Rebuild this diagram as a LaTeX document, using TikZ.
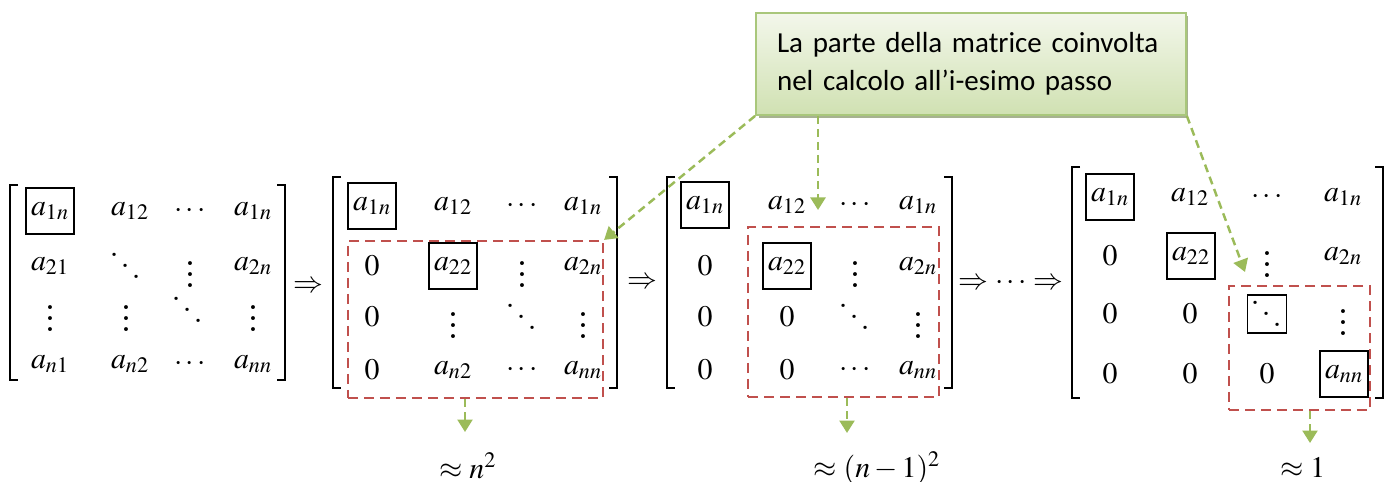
\documentclass[tikz,border=0pt]{standalone}
\usepackage[no-math]{fontspec}
\setmainfont{Liberation Serif}
\newfontfamily\notefont{Carlito}
\usepackage{mathptmx}
\usetikzlibrary{arrows.meta,shadows,fit}

\newcommand{\bvdots}{\mbox{\scalebox{1.6}{$\vdots$}}}
\newcommand{\bddots}{\mbox{\fontsize{23}{23}\selectfont\raisebox{12.4pt}{.}\kern0.5pt\raisebox{6.2pt}{.}\kern0.5pt.}}

\definecolor{notetop}{HTML}{F3F7EB}
\definecolor{notebot}{HTML}{D0E1B2}
\definecolor{noteline}{HTML}{A9C77B}
\definecolor{noteshadow}{HTML}{A7B291}
\definecolor{ptrgreen}{HTML}{9BBB59}
\definecolor{regred}{HTML}{C0504D}

\begin{document}
\begin{tikzpicture}[x=0.02cm, y=-0.02cm,
    every node/.style={font=\fontsize{17}{20}\selectfont},
    entry/.style={inner sep=1pt},
    pivot/.style={draw, line width=0.6pt, inner sep=1pt,
                  minimum width=0.96cm, minimum height=0.92cm},
    dpivot/.style={pivot, minimum width=0.78cm, minimum height=0.76cm},
    brk/.style={line width=0.7pt},
    region/.style={draw=regred, line width=1.2pt,
                   dash pattern=on 0.2cm off 0.12cm, inner sep=0pt},
    ptr/.style={draw=ptrgreen, line width=1.4pt,
                dash pattern=on 0.16cm off 0.1cm,
                -{Triangle[width=0.3cm,length=0.25cm]}},
    note/.style={draw=noteline, line width=1pt,
                 top color=notetop, bottom color=notebot,
                 drop shadow={shadow xshift=0.05cm, shadow yshift=-0.06cm,
                              fill=noteshadow, opacity=1},
                 font=\notefont\fontsize{16.5}{21.5}\selectfont,
                 align=left, text width=7.76cm, inner xsep=0.42cm,
                 minimum width=8.6cm, minimum height=2.04cm}]
\useasboundingbox (0,0) rectangle (1395,482);

% matrix 1
\draw[brk] (18,185) -- (10,185) -- (10,380) -- (18,380);
\draw[brk] (277,185) -- (285,185) -- (285,380) -- (277,380);
\foreach \x/\e/\s [count=\j] in {50/a_{1n}/pivot,130/a_{12}/entry,190/\cdots/entry,253/a_{1n}/entry}
  \node[\s] (A-1-\j) at (\x,211) {$\e$};
\foreach \x/\e [count=\j] in {50/a_{21},126/\bddots,190/\bvdots,253/a_{2n}}
  \node[entry] (A-2-\j) at (\x,266) {$\e$};
\foreach \x/\e [count=\j] in {50/\bvdots,126/\bvdots,188/\bddots,253/\bvdots}
  \node[entry] (A-3-\j) at (\x,310) {$\e$};
\foreach \x/\e [count=\j] in {50/a_{n1},130/a_{n2},190/\cdots,253/a_{nn}}
  \node[entry] (A-4-\j) at (\x,364) {$\e$};
\node (imp1) at (308,287) {$\Rightarrow$};

% matrix 2
\draw[brk] (341,177) -- (333,177) -- (333,388) -- (341,388);
\draw[brk] (609,177) -- (617,177) -- (617,388) -- (609,388);
\foreach \x/\e/\s [count=\j] in {372/a_{1n}/pivot,453/a_{12}/entry,522/\cdots/entry,583/a_{1n}/entry}
  \node[\s] (B-1-\j) at (\x,206) {$\e$};
\foreach \x/\e/\s [count=\j] in {372/0/entry,453/a_{22}/pivot,522/\bvdots/entry,583/a_{2n}/entry}
  \node[\s] (B-2-\j) at (\x,266) {$\e$};
\foreach \x/\e [count=\j] in {372/0,453/\bvdots,522/\bddots,583/\bvdots}
  \node[entry] (B-3-\j) at (\x,317) {$\e$};
\foreach \x/\e [count=\j] in {372/0,453/a_{n2},522/\cdots,583/a_{nn}}
  \node[entry] (B-4-\j) at (\x,370) {$\e$};
\node[region, fit={(348,241) (603,398)}] (r2) {};
\node (imp2) at (642,283) {$\Rightarrow$};

% matrix 3
\draw[brk] (675,177) -- (667,177) -- (667,388) -- (675,388);
\draw[brk] (944,177) -- (952,177) -- (952,388) -- (944,388);
\foreach \x/\e/\s [count=\j] in {705/a_{1n}/pivot,787/a_{12}/entry,855/\cdots/entry,918/a_{1n}/entry}
  \node[\s] (C-1-\j) at (\x,205) {$\e$};
\foreach \x/\e/\s [count=\j] in {705/0/entry,787/a_{22}/pivot,855/\bvdots/entry,918/a_{2n}/entry}
  \node[\s] (C-2-\j) at (\x,266) {$\e$};
\foreach \x/\e [count=\j] in {705/0,787/0,855/\bddots,918/\bvdots}
  \node[entry] (C-3-\j) at (\x,317) {$\e$};
\foreach \x/\e [count=\j] in {705/0,787/0,855/\cdots,918/a_{nn}}
  \node[entry] (C-4-\j) at (\x,370) {$\e$};
\node[region, fit={(748,227) (939,397)}] (r3) {};
\node (imp3) at (1011,283) {$\Rightarrow\cdots\Rightarrow$};

% matrix 4
\draw[brk] (1080,167) -- (1072,167) -- (1072,398) -- (1080,398);
\draw[brk] (1375,167) -- (1383,167) -- (1383,398) -- (1375,398);
\foreach \x/\e/\s [count=\j] in {1110/a_{1n}/pivot,1190/a_{12}/entry,1267/\cdots/entry,1343/a_{1n}/entry}
  \node[\s] (D-1-\j) at (\x,197) {$\e$};
\foreach \x/\e/\s [count=\j] in {1110/0/entry,1191/a_{22}/pivot,1267/\bvdots/entry,1343/a_{2n}/entry}
  \node[\s] (D-2-\j) at (\x,256) {$\e$};
\foreach \x/\e/\s [count=\j] in {1110/0/entry,1190/0/entry,1267/\bddots/dpivot,1343/\bvdots/entry}
  \node[\s] (D-3-\j) at (\x,314) {$\e$};
\foreach \x/\e/\s [count=\j] in {1110/0/entry,1190/0/entry,1267/0/entry,1344/a_{nn}/pivot}
  \node[\s] (D-4-\j) at (\x,374) {$\e$};
\node[region, fit={(1229,286) (1370,410)}] (r4) {};

% costs
\node (cost2) at (468,466) {$\approx n^2$};
\node (cost3) at (877,468) {$\approx (n-1)^2$};
\node (cost4) at (1303,468) {$\approx 1$};
\coordinate (t2) at (465,432);
\coordinate (t3) at (847,433);
\coordinate (t4) at (1310,443);
\draw[ptr] (t2 |- r2.south) -- (t2);
\draw[ptr] (t3 |- r3.south) -- (t3);
\draw[ptr] (t4 |- r4.south) -- (t4);

% callout
\node[note] (note) at (971,64) {La parte della matrice coinvolta\\nel calcolo all’i-esimo passo};
\coordinate (m3) at (818,210);
\coordinate (m4) at (1245,272);
\draw[ptr] (note.south west) -- (r2.north east);
\draw[ptr] (m3 |- note.south) -- (m3);
\draw[ptr] (note.south east) -- (m4);
\end{tikzpicture}
\end{document}
